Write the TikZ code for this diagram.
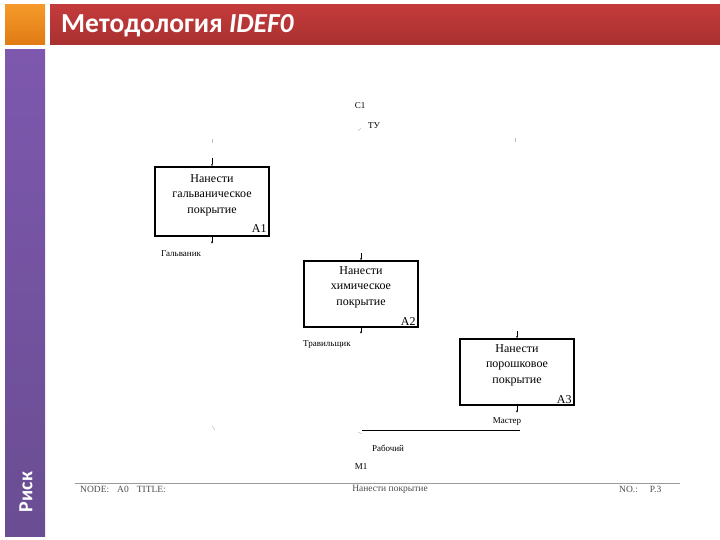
\documentclass[tikz,border=0pt]{standalone}
\usepackage{fontspec}
\setmainfont{Liberation Serif}
\newfontfamily\slidefont{Carlito}
\usetikzlibrary{arrows.meta,positioning,calc}
\definecolor{bannerred}{HTML}{C43B3B}
\definecolor{bannerdark}{HTML}{A83030}
\definecolor{cornerorange}{HTML}{F59A2A}
\definecolor{cornerdark}{HTML}{E07A14}
\definecolor{sidepurple}{HTML}{7D58AE}
\definecolor{sidedark}{HTML}{6A4D92}
\definecolor{footgray}{HTML}{9A9A9A}

\begin{document}
\begin{tikzpicture}[x=1pt,y=-1pt,
    actbox/.style={draw,line width=1.4pt,minimum width=114pt,minimum height=68pt,inner sep=0pt},
    boxtext/.style={align=center,font=\fontsize{12}{15.5}\selectfont,inner sep=0pt},
    boxid/.style={font=\fontsize{12}{13}\selectfont,inner sep=0pt,anchor=south east},
    arrlabel/.style={font=\fontsize{9}{10}\selectfont,inner sep=0pt},
    footlabel/.style={font=\fontsize{9.5}{10}\selectfont,inner sep=0pt,text=black!70},
    stub/.style={line width=0.6pt,-{Latex[length=2pt,width=2pt]}},
    faint/.style={draw=black!25,line width=0.5pt}]
    \useasboundingbox (0,0) rectangle (720,540);
    % slide frame
    \fill[top color=cornerorange,bottom color=cornerdark] (5,5) rectangle (45,45);
    \fill[top color=bannerred,bottom color=bannerdark] (50,5) rectangle (720,45);
    \fill[top color=sidepurple,bottom color=sidedark] (5,50) rectangle (45,536);
    \node[font=\slidefont\bfseries\fontsize{27.5}{30}\selectfont,text=white,anchor=west,inner sep=0pt] (title) at (61,26) {Методология \textit{IDEF0}};
    \node[font=\slidefont\bfseries\fontsize{20}{22}\selectfont,text=white,rotate=90,inner sep=0pt] (side) at (26,492) {Риск};
    % activity boxes
    \node[actbox,minimum height=69pt] (a1) at (212,201.5) {};
    \node[actbox,minimum height=66pt] (a2) at (361,294) {};
    \node[actbox,minimum height=66pt] (a3) at (517,372) {};
    \node[boxtext,below=8pt of a1.north] (a1t) {Нанести\\гальваническое\\покрытие};
    \node[boxtext,below=6pt of a2.north] (a2t) {Нанести\\химическое\\покрытие};
    \node[boxtext,below=6pt of a3.north] (a3t) {Нанести\\порошковое\\покрытие};
    \node[boxid] (a1id) at ($(a1.south east)+(-3,-4)$) {A1};
    \node[boxid] (a2id) at ($(a2.south east)+(-3,-2)$) {A2};
    \node[boxid] (a3id) at ($(a3.south east)+(-3,-2)$) {A3};
    % arrow stubs
    \coordinate (a1in) at ($(a1.north)+(0,-8)$);
    \coordinate (a2in) at ($(a2.north)+(0,-7)$);
    \coordinate (a3in) at ($(a3.north)+(0,-7)$);
    \coordinate (a1out) at ($(a1.south)+(0,7)$);
    \coordinate (a2out) at ($(a2.south)+(0,6)$);
    \coordinate (a3out) at ($(a3.south)+(0,7)$);
    \draw[stub] (a1in) -- (a1.north);
    \draw[stub] (a2in) -- (a2.north);
    \draw[stub] (a3in) -- (a3.north);
    \draw[stub] (a1.south) -- (a1out);
    \draw[stub] (a2.south) -- (a2out);
    \draw[stub] (a3.south) -- (a3out);
    % labels
    \node[arrlabel] (c1) at (360,106) {С1};
    \node[arrlabel] (tu) at (374,126) {ТУ};
    \node[arrlabel,anchor=west] (galv) at (161,254) {Гальваник};
    \node[arrlabel,anchor=west] (trav) at (303,345) {Травильщик};
    \node[arrlabel] (mast) at (507,422) {Мастер};
    \node[arrlabel] (rab) at (388,448) {Рабочий};
    \node[arrlabel] (m1) at (361,467) {М1};
    % mechanism line
    \coordinate (mstart) at (362,430);
    \coordinate (mend) at (520,430);
    \draw[line width=0.8pt] (mstart) -- (mend);
    % faint marks
    \draw[faint] (212,139) -- (212,143);
    \draw[faint] (358,131) -- (361,128);
    \draw[faint] (515,138) -- (515,142);
    \draw[faint] (212,426) -- (215,430);
    \draw[faint] (358,432) -- (362,434);
    % footer
    \coordinate (fl) at (75,483);
    \coordinate (fr) at (680,483);
    \draw[footgray,line width=0.6pt] (fl) -- (fr);
    \node[footlabel,anchor=west] (fnode) at (80,489) {NODE:\hspace{8pt}A0\hspace{8pt}TITLE:};
    \node[footlabel] (ftitle) at (390,489) {Нанести покрытие};
    \node[footlabel,anchor=west] (fno) at (619,489) {NO.:\hspace{12pt}P.3};
\end{tikzpicture}
\end{document}
